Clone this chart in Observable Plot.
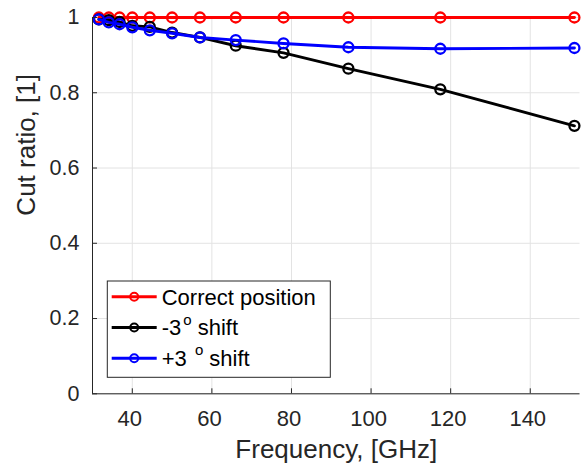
<!DOCTYPE html>
<html><head><meta charset="utf-8">
<script src="https://cdn.jsdelivr.net/npm/d3@7"></script>
<script src="https://cdn.jsdelivr.net/npm/@observablehq/plot@0.6"></script>
<style>body{margin:0;background:#fff}#chart{width:582px;height:463px}</style>
</head><body><div id="chart"></div>
<script>
const frequency = [31.6, 34.1, 36.8, 40, 44.4, 50, 57, 66, 78, 94.3, 117.4, 151.1];
const correctPosition = [1, 1, 1, 1, 1, 1, 1, 1, 1, 1, 1, 1];
const minus3Shift = [0.995, 0.993, 0.988, 0.978, 0.975, 0.960, 0.947, 0.925, 0.906, 0.864, 0.809, 0.712];
const plus3Shift = [0.995, 0.987, 0.982, 0.974, 0.966, 0.958, 0.947, 0.940, 0.931, 0.921, 0.917, 0.919];
const seriesNames = ["Correct position", "-3 o shift", "+3 o shift"];
const seriesColors = ["#ff0000", "#000000", "#0000ff"];
const xTicks = [40, 60, 80, 100, 120, 140];
const yTicks = [0, 0.2, 0.4, 0.6, 0.8, 1];
const yTickLabels = ["0", "0.2", "0.4", "0.6", "0.8", "1"];
const xLabel = "Frequency, [GHz]";
const yLabel = "Cut ratio, [1]";

const seriesValues = [correctPosition, minus3Shift, plus3Shift];
const seriesData = seriesValues.map((vals, s) => vals.map((v, i) => ({series: seriesNames[s], f: frequency[i], r: v})));

const axisColor = "#262626";
const gridColor = "#e3e3e3";
const font = "'Liberation Sans', Arial, Helvetica, sans-serif";

const seriesMarks = [];
seriesData.forEach((d, s) => {
  seriesMarks.push(Plot.line(d, {x: "f", y: "r", stroke: seriesColors[s], strokeWidth: 2.9}));
  seriesMarks.push(Plot.dot(d, {x: "f", y: "r", stroke: seriesColors[s], fill: "none", r: 5, strokeWidth: 2.3}));
});

const chart = Plot.plot({
  width: 582, height: 463,
  marginLeft: 92, marginRight: 2.5, marginTop: 17, marginBottom: 69.7,
  style: {fontFamily: font, color: axisColor, background: "white", overflow: "visible"},
  x: {domain: [30, 152.5]},
  y: {domain: [0, 1]},
  marks: [
    Plot.gridX(xTicks, {stroke: gridColor, strokeOpacity: 1, strokeWidth: 1}),
    Plot.gridY(yTicks, {stroke: gridColor, strokeOpacity: 1, strokeWidth: 1}),
    ...seriesMarks,
    Plot.ruleX([30], {stroke: axisColor, strokeWidth: 1}),
    Plot.ruleY([0], {stroke: axisColor, strokeWidth: 1}),
    Plot.axisX(xTicks, {tickSize: 5, dy: -5, tickFormat: () => "", label: null, stroke: axisColor}),
    Plot.axisX(xTicks, {tickSize: 0, tickPadding: 16.5, dx: -2.5, fontSize: 22, fill: axisColor, label: null}),
    Plot.axisY(yTicks, {tickSize: 5, dx: 5, tickFormat: () => "", label: null, stroke: axisColor}),
    Plot.axisY(yTicks, {tickSize: 0, tickPadding: 13, fontSize: 21.5, fill: axisColor, label: null, tickFormat: (d, i) => yTickLabels[yTicks.indexOf(d)]}),
    Plot.text([xLabel], {frameAnchor: "bottom", dy: 55.4, fontSize: 26, lineAnchor: "middle", fill: axisColor}),
    Plot.text([yLabel], {frameAnchor: "left", rotate: -90, dx: -66, dy: 10, fontSize: 26, lineAnchor: "middle", fill: axisColor})
  ]
});
document.getElementById("chart").appendChild(chart);

// Legend
const svg = d3.select(chart);
const lg = svg.append("g").attr("class", "legend").attr("font-family", font).attr("text-anchor", "start");
const box = {x: 107.3, y: 281, w: 223, h: 96.3};
lg.append("rect").attr("x", box.x).attr("y", box.y).attr("width", box.w).attr("height", box.h)
  .attr("fill", "white").attr("stroke", axisColor).attr("stroke-width", 1);
const rowY = [296.7, 327.5, 358.3];
const legendText = [
  [{t: "Correct position"}],
  [{t: "-3"}, {t: "o", sup: true}, {t: " shift"}],
  [{t: "+3 "}, {t: "o", sup: true}, {t: " shift"}]
];
seriesNames.forEach((name, s) => {
  const y = rowY[s];
  lg.append("line").attr("x1", 111.7).attr("x2", 156.7).attr("y1", y).attr("y2", y)
    .attr("stroke", seriesColors[s]).attr("stroke-width", 2.9);
  lg.append("circle").attr("cx", 134.2).attr("cy", y).attr("r", 4).attr("fill", "none")
    .attr("stroke", seriesColors[s]).attr("stroke-width", 2);
  const tx = lg.append("text").attr("x", 161.7).attr("y", y + 7.8).attr("font-size", 22)
    .attr("fill", "#000").attr("text-anchor", "start");
  let raised = false;
  legendText[s].forEach(p => {
    const ts = tx.append("tspan").text(p.t);
    if (p.sup) { ts.attr("dy", -10.7).attr("font-size", 15).attr("dx", 2); raised = true; }
    else if (raised) { ts.attr("dy", 10.7); raised = false; }
  });
});
</script>
</body></html>
